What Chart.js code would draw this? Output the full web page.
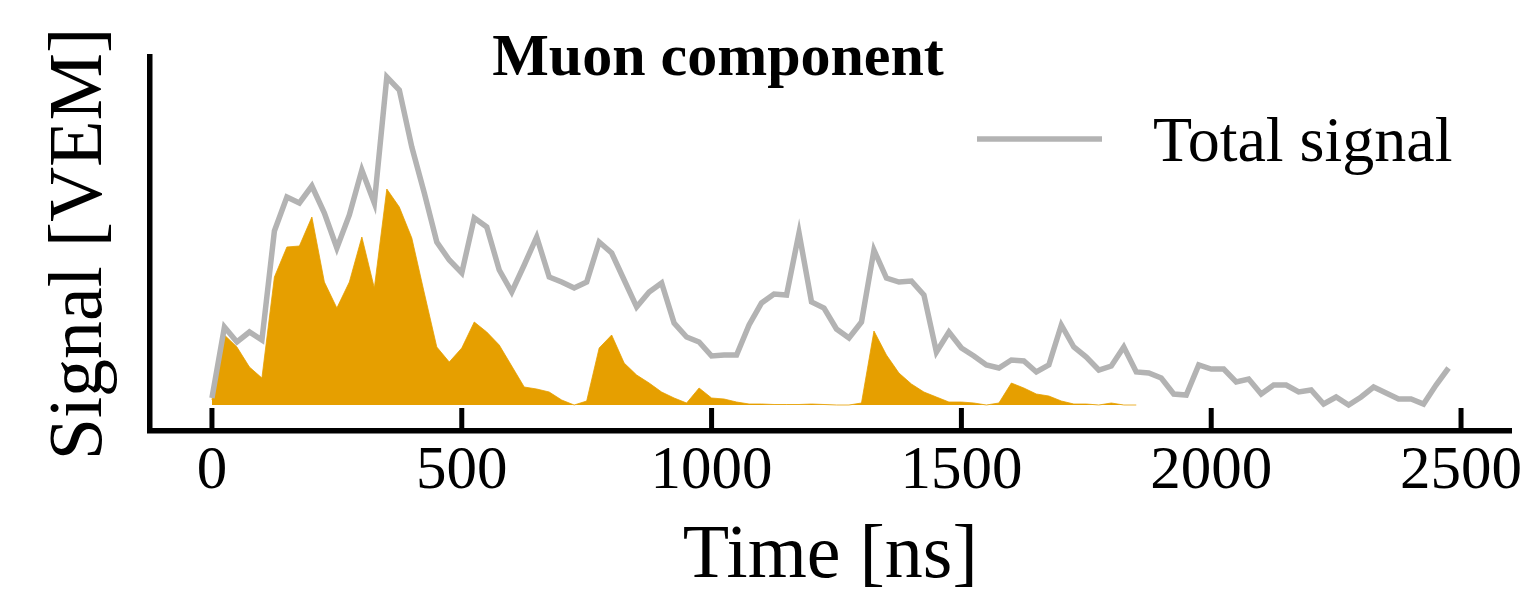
<!DOCTYPE html>
<html lang="en">
<head>
    <meta charset="UTF-8">
    <title>Muon component</title>
    <script src="https://cdn.jsdelivr.net/npm/chart.js"></script>
    <style>
        body {
            margin: 0;
            padding: 0;
            background: white;
        }

        #chart-container {
            width: 1528px;
            height: 604px;
        }
    </style>
</head>
<body>

    <div id="chart-container">
        <canvas id="signalChart"></canvas>
    </div>

    <script>
        // time bins [ns], one every 25 ns
        const times = [];
        for (let t = 0; t <= 2475; t += 25) times.push(t);

        const totalSignal = [
            0.7, 7.8, 6.3, 7.3, 6.5, 17.4, 20.8, 20.2, 21.9, 19.2,
            15.7, 19.0, 23.5, 20.2, 32.8, 31.5, 25.8, 21.2, 16.3, 14.5,
            13.2, 18.7, 17.8, 13.5, 11.3, 14.0, 16.8, 12.8, 12.3, 11.7,
            12.3, 16.3, 15.2, 12.5, 9.8, 11.3, 12.2, 8.2, 6.8, 6.3,
            4.9, 5.0, 5.0, 8.0, 10.2, 11.1, 11.0, 17.2, 10.3, 9.7,
            7.6, 6.7, 8.3, 15.5, 12.7, 12.3, 12.4, 11.0, 5.3, 7.3,
            5.7, 4.9, 4.0, 3.7, 4.5, 4.4, 3.3, 4.0, 8.0, 5.8,
            4.8, 3.5, 3.9, 5.8, 3.3, 3.2, 2.7, 1.1, 1.0, 4.0,
            3.6, 3.6, 2.3, 2.6, 1.1, 2.0, 2.0, 1.3, 1.5, 0.1,
            0.8, 0.0, 0.8, 1.8, 1.2, 0.6, 0.6, 0.1, 2.0, 3.7
        ];

        const muonSignal = [
            0.5, 7.0, 5.8, 3.8, 2.7, 12.8, 15.8, 15.9, 18.8, 12.3,
            9.7, 12.3, 16.8, 11.7, 21.6, 19.8, 16.7, 11.2, 5.8, 4.3,
            5.7, 8.3, 7.3, 6.0, 3.9, 1.8, 1.6, 1.3, 0.5, 0.0,
            0.4, 5.7, 7.0, 4.2, 3.0, 2.2, 1.3, 0.7, 0.2, 1.7,
            0.7, 0.6, 0.3, 0.1, 0.1, 0.05, 0.05, 0.05, 0.1, 0.05,
            0.0, 0.0, 0.2, 7.4, 5.0, 3.2, 2.1, 1.3, 0.8, 0.3,
            0.3, 0.2, 0.0, 0.2, 2.2, 1.7, 1.1, 0.9, 0.4, 0.1,
            0.1, 0.0, 0.2, 0.0, 0.0
        ];

        const xTicks = [0, 500, 1000, 1500, 2000, 2500];
        const titleText = 'Muon component';
        const xLabel = 'Time [ns]';
        const yLabel = 'Signal [VEM]';
        const totalLabel = 'Total signal';

        const serif = '"Liberation Serif", "Times New Roman", serif';
        const grey = '#b3b3b3';
        const orange = '#E69F00';

        // title, legend and inward tick marks like the original figure
        const extras = {
            id: 'extras',
            afterDraw(chart) {
                const ctx = chart.ctx;
                const area = chart.chartArea;
                const x = chart.scales.x;

                ctx.save();
                ctx.strokeStyle = 'black';
                ctx.lineWidth = 5;
                x.ticks.forEach(tk => {
                    const px = x.getPixelForValue(tk.value);
                    ctx.beginPath();
                    ctx.moveTo(px, area.bottom);
                    ctx.lineTo(px, area.bottom - 23);
                    ctx.stroke();
                });

                ctx.fillStyle = 'black';
                ctx.textBaseline = 'alphabetic';
                ctx.textAlign = 'center';
                ctx.font = 'bold 60px ' + serif;
                ctx.fillText(titleText, 718, 75);

                const ds = chart.data.datasets[0];
                ctx.strokeStyle = ds.borderColor;
                ctx.lineWidth = ds.borderWidth;
                ctx.beginPath();
                ctx.moveTo(977, 139);
                ctx.lineTo(1102, 139);
                ctx.stroke();
                ctx.textAlign = 'left';
                ctx.font = '64px ' + serif;
                ctx.fillText(ds.label, 1153, 161);
                ctx.restore();
            }
        };

        const ctx = document.getElementById('signalChart').getContext('2d');

        new Chart(ctx, {
            type: 'line',
            data: {
                datasets: [
                    {
                        label: totalLabel,
                        data: times.map((t, i) => ({ x: t, y: totalSignal[i] })),
                        borderColor: grey,
                        borderWidth: 5.5,
                        pointRadius: 0,
                        fill: false,
                        tension: 0
                    },
                    {
                        label: 'Muon signal',
                        data: muonSignal.map((v, i) => ({ x: times[i], y: v })),
                        borderColor: orange,
                        backgroundColor: orange,
                        borderWidth: 0.8,
                        pointRadius: 0,
                        fill: 'origin',
                        tension: 0
                    }
                ]
            },
            options: {
                responsive: true,
                maintainAspectRatio: false,
                animation: false,
                layout: { padding: { top: 57, right: 17, left: 0, bottom: 0 } },
                plugins: {
                    legend: { display: false },
                    title: { display: false },
                    tooltip: { enabled: false }
                },
                scales: {
                    x: {
                        type: 'linear',
                        min: -125,
                        max: 2600,
                        afterBuildTicks: s => { s.ticks = xTicks.map(v => ({ value: v })); },
                        afterFit: s => { s.height = 173; },
                        ticks: {
                            padding: 4.5,
                            color: 'black',
                            font: { family: serif, size: 61 },
                            callback: v => String(v)
                        },
                        grid: { drawOnChartArea: false, drawTicks: false },
                        border: { color: 'black', width: 5.5 },
                        title: {
                            display: true,
                            text: xLabel,
                            color: 'black',
                            font: { family: serif, size: 76 },
                            padding: { top: 0, bottom: 1 }
                        }
                    },
                    y: {
                        min: -2.6,
                        max: 34.8,
                        afterFit: s => { s.width = 149.5; },
                        ticks: { display: false },
                        grid: { drawOnChartArea: false, drawTicks: false },
                        border: { color: 'black', width: 5.5 },
                        title: {
                            display: true,
                            text: yLabel,
                            color: 'black',
                            font: { family: serif, size: 76 },
                            padding: { top: 35, bottom: 0 }
                        }
                    }
                }
            },
            plugins: [extras]
        });
    </script>

</body>
</html>
